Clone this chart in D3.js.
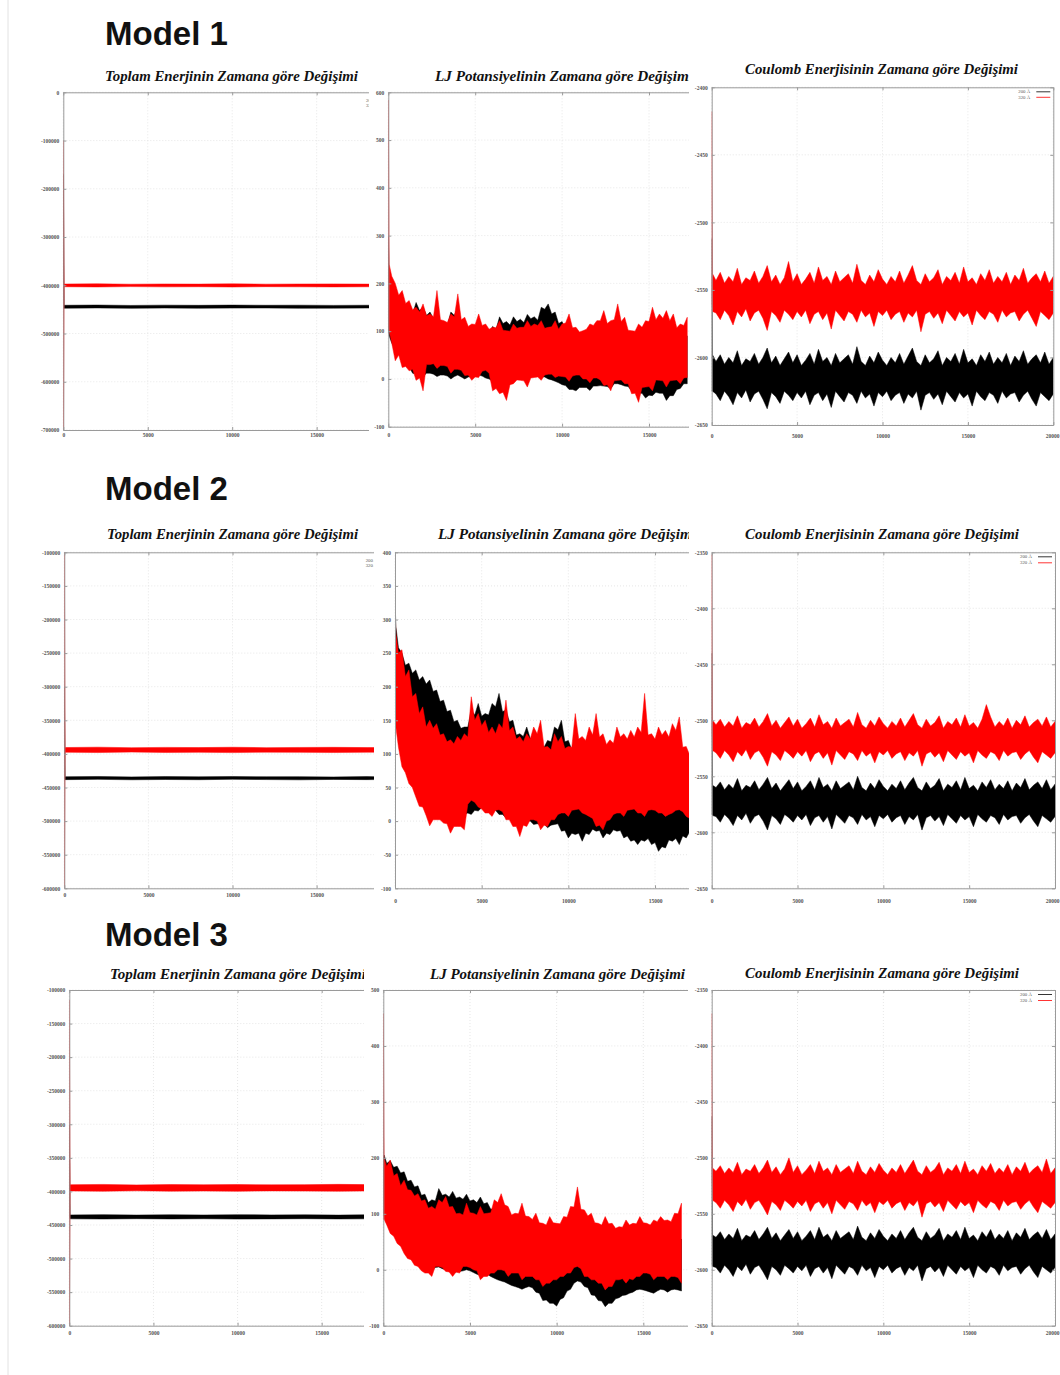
<!DOCTYPE html>
<html><head><meta charset="utf-8">
<script src="https://cdn.jsdelivr.net/npm/d3@7"></script>
<style>body{margin:0;background:#fff}svg{display:block}</style>
</head><body>
<svg id="fig" width="1060" height="1375"></svg>
<script>
// ---------------- DATA ----------------
const modelTitles = ["Model 1", "Model 2", "Model 3"];
const panelTitles = ["Toplam Enerjinin Zamana göre Değişimi", "LJ Potansiyelinin Zamana göre Değişimi", "Coulomb Enerjisinin Zamana göre Değişimi"];
const seriesNames = ["200 Å", "320 Å"];

const xTickValues = [0, 5000, 10000, 15000, 20000];
const totTicksM1 = [0, -100000, -200000, -300000, -400000, -500000, -600000, -700000];
const totTicksM23 = [-100000, -150000, -200000, -250000, -300000, -350000, -400000, -450000, -500000, -550000, -600000];
const ljTicksM1 = [600, 500, 400, 300, 200, 100, 0, -100];
const ljTicksM2 = [400, 350, 300, 250, 200, 150, 100, 50, 0, -50, -100];
const ljTicksM3 = [500, 400, 300, 200, 100, 0, -100];
const coulTicksM1 = [-2400, -2450, -2500, -2550, -2600, -2650];
const coulTicksM23 = [-2350, -2400, -2450, -2500, -2550, -2600, -2650];

// time steps at which envelopes (min / max of the noisy trace) were read
const totSteps = [0, 50, 2000, 4000, 6000, 8000, 10000, 12000, 14000, 16000, 18000, 20000];
const ljSteps = [0, 50, 400, 800, 1200, 1600, 2000, 2400, 2800, 3200, 3600, 4000, 4400, 4800, 5200, 5600, 6000, 6400, 6800, 7200, 7600, 8000, 8400, 8800, 9200, 9600, 10000, 10400, 10800, 11200, 11600, 12000, 12400, 12800, 13200, 13600, 14000, 14400, 14800, 15200, 15600, 16000, 16400, 16800, 17200];
const ljMidSteps = [200, 600, 1000, 1400, 1800, 2200, 2600, 3000, 3400, 3800, 4200, 4600, 5000, 5400, 5800, 6200, 6600, 7000, 7400, 7800, 8200, 8600, 9000, 9400, 9800, 10200, 10600, 11000, 11400, 11800, 12200, 12600, 13000, 13400, 13800, 14200, 14600, 15000, 15400, 15800, 16200, 16600, 17000];
const coulSteps = [0, 50, 250, 500, 750, 1000, 1250, 1500, 1750, 2000, 2250, 2500, 2750, 3000, 3250, 3500, 3750, 4000, 4250, 4500, 4750, 5000, 5250, 5500, 5750, 6000, 6250, 6500, 6750, 7000, 7250, 7500, 7750, 8000, 8250, 8500, 8750, 9000, 9250, 9500, 9750, 10000, 10250, 10500, 10750, 11000, 11250, 11500, 11750, 12000, 12250, 12500, 12750, 13000, 13250, 13500, 13750, 14000, 14250, 14500, 14750, 15000, 15250, 15500, 15750, 16000, 16250, 16500, 16750, 17000, 17250, 17500, 17750, 18000, 18250, 18500, 18750, 19000, 19250, 19500, 19750, 20000];

// Model 1 – total energy
const m1TotBlackHi = [-170000, -441500, -441000, -441800, -441200, -441600, -441100, -441500, -441300, -441700, -441400, -441500];
const m1TotBlackLo = [-447000, -447500, -447000, -447800, -447200, -447600, -447300, -447100, -447700, -447400, -447200, -447500];
const m1TotRedHi = [-100000, -397500, -397000, -397800, -397300, -397600, -397100, -397700, -397400, -397200, -397600, -397500];
const m1TotRedLo = [-760000, -403000, -403500, -402800, -403300, -403000, -403600, -402900, -403200, -403400, -403100, -403000];
// Model 2 – total energy
const m2TotBlackHi = [-300000, -434000, -433600, -434200, -433800, -434100, -433700, -434000, -433900, -434300, -433800, -434000];
const m2TotBlackLo = [-437000, -438300, -437900, -438500, -438100, -438400, -437800, -438200, -438600, -438000, -438300, -438100];
const m2TotRedHi = [-100000, -390500, -390000, -390800, -390300, -390600, -390100, -390700, -390400, -390200, -390600, -390500];
const m2TotRedLo = [-620000, -397500, -398000, -397300, -397800, -397600, -398100, -397400, -397700, -397900, -397500, -397600];
// Model 3 – total energy
const m3TotBlackHi = [-300000, -435000, -434600, -435200, -434800, -435100, -434700, -435000, -434900, -435300, -434800, -435000];
const m3TotBlackLo = [-438000, -440800, -441100, -440600, -441000, -440700, -441200, -440900, -440600, -441000, -440800, -440900];
const m3TotRedHi = [-115000, -390000, -389600, -390300, -389800, -390100, -389700, -390200, -389900, -389500, -390000, -389800];
const m3TotRedLo = [-620000, -399300, -399700, -399100, -399600, -399400, -399800, -399200, -399500, -399700, -399300, -399400];

// Model 1 – LJ potential (values at ljSteps, plus edge values at ljMidSteps)
const m1LjBlackHi = [300, 200, 170, 150, 140, 160, 150, 140, 130, 120, 140, 150, 120, 110, 120, 100, 110, 130, 120, 130, 125, 135, 130, 150, 157, 140, 120, 110, 100, 95, 100, 110, 100, 95, 105, 100, 90, 85, 95, 100, 110, 100, 95, 90, 90];
const m1LjBlackHiMid = [180, 140, 133, 136, 143, 133, 126, 116, 113, 133, 116, 106, 103, 98, 96, 104, 116, 113, 120, 118, 126, 123, 146, 136, 116, 103, 96, 90, 92, 96, 98, 90, 93, 96, 86, 80, 83, 90, 98, 96, 90, 86, 84];
const m1LjBlackLo = [100, 90, 60, 40, 25, 10, 5, 12, 5, 8, 0, 8, 0, 5, 8, 2, -5, 5, 0, 5, 10, 5, 15, 5, 0, -5, -12, -22, -25, -18, -24, -15, -15, -20, -10, -15, -25, -30, -40, -35, -30, -45, -35, -20, -10];
const m1LjBlackLoMid = [75, 55, 28, 12, 8, 12, 10, 8, 6, 5, 4, 4, 8, 6, 0, 2, 4, 2, 10, 8, 14, 12, 4, -2, -8, -14, -22, -18, -18, -15, -14, -16, -10, -12, -16, -24, -30, -34, -28, -30, -35, -22, -10];
const m1LjRedHi = [584, 240, 200, 185, 164, 150, 157, 136, 185, 122, 136, 178, 129, 115, 136, 115, 108, 122, 101, 115, 108, 122, 115, 122, 108, 122, 115, 136, 108, 101, 115, 122, 143, 122, 157, 129, 101, 115, 122, 150, 136, 143, 136, 115, 129];
const m1LjRedHiMid = [215, 175, 158, 145, 140, 132, 130, 124, 118, 130, 124, 110, 114, 112, 104, 107, 102, 100, 106, 108, 110, 112, 106, 109, 104, 117, 107, 98, 104, 112, 122, 116, 124, 120, 102, 100, 108, 120, 124, 127, 122, 107, 112];
const m1LjRedLo = [110, 100, 38, 24, 17, -3, -25, 30, 22, 28, 12, 20, 7, -3, 3, 18, -25, -31, -45, -10, -3, -17, 3, -3, 10, 3, 5, -5, 8, 0, -8, 2, -14, -25, -3, -10, -31, -49, -17, -25, -3, -17, -3, -10, 3];
const m1LjRedLoMid = [75, 50, 26, 20, 2, 30, 32, 28, 26, 20, 18, 8, 4, 16, 12, -20, -28, -12, -2, -4, 2, 4, 8, 10, 6, 4, 6, 8, 0, 2, -2, -12, -4, -2, -10, -30, -18, -16, -2, -4, -4, -2, 2];
// Model 2 – LJ potential
const m2LjBlackHi = [330, 290, 250, 235, 225, 215, 210, 195, 180, 165, 150, 140, 165, 175, 160, 175, 190, 165, 150, 130, 140, 125, 115, 120, 140, 150, 120, 110, 115, 105, 100, 110, 95, 100, 95, 105, 100, 95, 110, 100, 95, 100, 90, 95, 90];
const m2LjBlackHiMid = [258, 232, 220, 210, 204, 193, 178, 163, 148, 138, 140, 158, 156, 158, 170, 163, 148, 128, 126, 123, 112, 110, 118, 136, 118, 106, 104, 102, 96, 96, 93, 90, 92, 90, 96, 90, 93, 98, 92, 90, 88, 84, 86];
const m2LjBlackLo = [200, 160, 120, 100, 80, 60, 50, 40, 30, 20, 20, 10, 10, 15, 20, 15, 10, 5, 0, 5, 0, -5, -5, -10, -5, -15, -25, -20, -30, -20, -15, -25, -20, -15, -25, -30, -35, -30, -35, -45, -40, -30, -35, -25, -20];
const m2LjBlackLoMid = [140, 108, 86, 64, 54, 44, 34, 24, 22, 16, 12, 16, 20, 20, 16, 10, 4, 4, 4, 0, -4, -4, -6, -4, -14, -18, -18, -18, -12, -14, -18, -13, -14, -22, -28, -28, -26, -32, -38, -28, -26, -22, -16];
const m2LjRedHi = [320, 280, 255, 225, 190, 170, 150, 145, 130, 121, 126, 130, 185, 160, 150, 140, 145, 180, 140, 126, 130, 140, 150, 111, 130, 126, 111, 160, 126, 140, 160, 130, 121, 140, 130, 135, 140, 190, 130, 140, 135, 145, 155, 111, 100];
const m2LjRedHiMid = [250, 215, 185, 160, 140, 138, 128, 118, 115, 120, 125, 150, 142, 132, 130, 138, 135, 122, 118, 122, 130, 110, 106, 118, 108, 110, 122, 120, 128, 125, 114, 116, 125, 122, 125, 132, 128, 122, 128, 125, 135, 110, 98];
const m2LjRedLo = [160, 140, 81, 56, 36, 21, -7, 2, -3, -18, -8, -13, 31, 21, 12, 7, 17, 2, -8, -23, -8, 2, -13, -8, 2, 12, 7, 17, 12, 7, -8, -13, 2, 12, 7, 17, 12, 7, 17, 12, 7, 12, 17, 7, 2];
const m2LjRedLoMid = [110, 72, 50, 22, 8, 2, 2, -4, -8, -8, 25, 28, 18, 12, 16, 14, 2, -8, -6, 2, 0, -6, 2, 10, 12, 16, 18, 10, 4, -6, 0, 10, 12, 16, 18, 12, 16, 16, 12, 10, 16, 14, 4];
// Model 3 – LJ potential
const m3LjBlackHi = [200, 205, 195, 185, 175, 160, 150, 135, 125, 145, 135, 140, 130, 135, 125, 130, 120, 110, 100, 95, 90, 85, 80, 75, 70, 75, 65, 60, 70, 85, 70, 65, 60, 55, 50, 55, 50, 45, 55, 50, 55, 60, 55, 50, 55];
const m3LjBlackHiMid = [190, 183, 173, 158, 148, 133, 120, 123, 133, 130, 128, 126, 123, 120, 118, 108, 98, 93, 88, 84, 78, 74, 68, 68, 66, 58, 60, 70, 72, 64, 58, 54, 50, 48, 50, 44, 46, 50, 48, 54, 56, 50, 48];
const m3LjBlackLo = [100, 95, 75, 55, 40, 25, 15, 5, 0, 5, 0, -5, -3, 0, -5, -10, -8, -15, -20, -25, -30, -35, -30, -40, -55, -60, -65, -50, -35, -20, -30, -45, -55, -66, -60, -50, -45, -40, -35, -38, -42, -35, -40, -35, -38];
const m3LjBlackLoMid = [88, 64, 44, 27, 16, 6, 2, 4, 2, -2, -4, -2, -2, -8, -10, -12, -18, -22, -28, -32, -32, -32, -42, -54, -60, -53, -38, -24, -22, -32, -46, -56, -60, -52, -46, -42, -36, -36, -40, -38, -36, -36, -36];
const m3LjRedHi = [458, 199, 196, 172, 160, 142, 136, 125, 113, 125, 131, 113, 101, 119, 101, 113, 101, 125, 136, 113, 101, 119, 95, 101, 83, 95, 83, 95, 113, 148, 107, 101, 83, 95, 83, 77, 89, 83, 95, 83, 89, 95, 89, 101, 119];
const m3LjRedHiMid = [185, 168, 150, 143, 132, 123, 110, 108, 120, 112, 100, 98, 102, 98, 100, 102, 120, 116, 98, 100, 96, 90, 84, 80, 84, 82, 94, 112, 108, 96, 84, 80, 82, 74, 76, 80, 82, 84, 80, 86, 88, 86, 100];
const m3LjRedLo = [90, 90, 65, 47, 29, 18, 6, -6, -12, 6, -3, -12, -6, 6, 0, -18, -12, -6, 0, -12, -6, -18, -12, -18, -30, -24, -18, -12, -6, 6, -12, -18, -24, -36, -30, -18, -24, -18, -12, -6, -18, -12, -18, -12, -24];
const m3LjRedLoMid = [80, 60, 42, 20, 8, -2, -6, 6, 4, -4, -4, 6, 4, -2, -12, -6, 0, -2, -6, -6, -12, -12, -18, -24, -18, -12, -6, 4, 2, -12, -18, -24, -30, -18, -16, -16, -12, -6, -8, -12, -12, -12, -14];

// Model 1 – Coulomb energy
const m1CoulBlackHi = [-2512, -2598,
  -2603, -2598, -2605, -2600, -2604, -2595, -2606, -2601, -2603, -2597,
  -2605, -2600, -2593, -2604, -2599, -2606, -2601, -2596, -2604, -2598,
  -2606, -2602, -2597, -2605, -2594, -2603, -2600, -2606, -2597, -2604,
  -2601, -2598, -2605, -2592, -2603, -2606, -2599, -2604, -2596, -2602,
  -2606, -2600, -2604, -2597, -2605, -2599, -2593, -2603, -2606, -2598,
  -2604, -2601, -2595, -2606, -2600, -2603, -2597, -2605, -2594, -2604,
  -2601, -2606, -2598, -2603, -2596, -2605, -2600, -2604, -2597, -2606,
  -2599, -2603, -2595, -2605, -2601, -2598, -2604, -2596, -2605, -2600];
const m1CoulBlackLo = [-2625, -2625,
  -2627, -2632, -2625, -2629, -2635, -2626, -2630, -2624, -2633, -2627,
  -2625, -2631, -2638, -2626, -2629, -2634, -2625, -2628, -2632, -2626,
  -2630, -2625, -2635, -2628, -2626, -2632, -2627, -2637, -2625, -2629,
  -2633, -2626, -2628, -2634, -2625, -2630, -2627, -2636, -2626, -2629,
  -2625, -2632, -2628, -2626, -2634, -2627, -2630, -2625, -2639, -2628,
  -2626, -2631, -2627, -2635, -2625, -2629, -2633, -2626, -2630, -2627,
  -2636, -2625, -2629, -2632, -2626, -2628, -2634, -2625, -2630, -2627,
  -2626, -2633, -2628, -2625, -2631, -2636, -2626, -2629, -2632, -2627];
const m1CoulRedHi = [-2418, -2538,
  -2543, -2537, -2545, -2540, -2544, -2534, -2546, -2541, -2543, -2536,
  -2545, -2540, -2532, -2544, -2539, -2546, -2541, -2529, -2544, -2538,
  -2546, -2542, -2537, -2545, -2533, -2543, -2540, -2546, -2536, -2544,
  -2541, -2538, -2545, -2531, -2543, -2546, -2539, -2544, -2535, -2542,
  -2546, -2540, -2544, -2536, -2545, -2539, -2532, -2543, -2546, -2538,
  -2544, -2541, -2535, -2546, -2540, -2543, -2537, -2545, -2533, -2544,
  -2541, -2546, -2538, -2543, -2535, -2545, -2540, -2544, -2537, -2546,
  -2539, -2543, -2534, -2545, -2541, -2538, -2544, -2536, -2545, -2540];
const m1CoulRedLo = [-2560, -2566,
  -2567, -2572, -2565, -2569, -2576, -2566, -2570, -2564, -2573, -2567,
  -2565, -2571, -2580, -2566, -2569, -2574, -2565, -2568, -2572, -2566,
  -2570, -2565, -2575, -2568, -2566, -2572, -2567, -2579, -2565, -2569,
  -2573, -2566, -2568, -2574, -2565, -2570, -2567, -2577, -2566, -2569,
  -2565, -2572, -2568, -2566, -2574, -2567, -2570, -2565, -2581, -2568,
  -2566, -2571, -2567, -2575, -2565, -2569, -2573, -2566, -2570, -2567,
  -2576, -2565, -2569, -2572, -2566, -2568, -2574, -2565, -2570, -2567,
  -2566, -2573, -2568, -2565, -2571, -2577, -2566, -2569, -2572, -2567];
// Model 2 – Coulomb energy
const m2CoulBlackHi = [-2440, -2558,
  -2560, -2555, -2562, -2557, -2561, -2552, -2563, -2558, -2560, -2554,
  -2562, -2557, -2551, -2561, -2556, -2563, -2558, -2553, -2561, -2555,
  -2563, -2559, -2554, -2562, -2551, -2560, -2557, -2563, -2554, -2561,
  -2558, -2555, -2562, -2550, -2560, -2563, -2556, -2561, -2553, -2559,
  -2563, -2557, -2561, -2554, -2562, -2556, -2551, -2560, -2563, -2555,
  -2561, -2558, -2552, -2563, -2557, -2560, -2554, -2562, -2551, -2561,
  -2558, -2563, -2555, -2560, -2553, -2562, -2557, -2561, -2554, -2563,
  -2556, -2560, -2552, -2562, -2558, -2555, -2561, -2553, -2562, -2557];
const m2CoulBlackLo = [-2584, -2585,
  -2586, -2591, -2584, -2588, -2594, -2585, -2589, -2583, -2592, -2586,
  -2584, -2590, -2598, -2585, -2588, -2593, -2584, -2587, -2591, -2585,
  -2589, -2584, -2594, -2587, -2585, -2591, -2586, -2597, -2584, -2588,
  -2592, -2585, -2587, -2593, -2584, -2589, -2586, -2595, -2585, -2588,
  -2584, -2591, -2587, -2585, -2593, -2586, -2589, -2584, -2598, -2587,
  -2585, -2590, -2586, -2594, -2584, -2588, -2592, -2585, -2589, -2586,
  -2595, -2584, -2588, -2591, -2585, -2587, -2593, -2584, -2589, -2586,
  -2585, -2592, -2587, -2584, -2590, -2595, -2585, -2588, -2591, -2586];
const m2CoulRedHi = [-2352, -2500,
  -2504, -2499, -2506, -2501, -2505, -2496, -2507, -2502, -2504, -2498,
  -2506, -2501, -2494, -2505, -2500, -2507, -2502, -2497, -2505, -2499,
  -2507, -2503, -2498, -2506, -2495, -2504, -2501, -2507, -2498, -2505,
  -2502, -2499, -2506, -2493, -2504, -2507, -2500, -2505, -2497, -2503,
  -2507, -2501, -2505, -2498, -2506, -2500, -2494, -2504, -2507, -2499,
  -2505, -2502, -2496, -2507, -2501, -2504, -2498, -2506, -2495, -2505,
  -2502, -2507, -2499, -2486, -2497, -2506, -2501, -2505, -2498, -2507,
  -2500, -2504, -2496, -2506, -2502, -2499, -2505, -2497, -2506, -2501];
const m2CoulRedLo = [-2510, -2527,
  -2529, -2534, -2527, -2531, -2537, -2528, -2532, -2526, -2535, -2529,
  -2527, -2533, -2541, -2528, -2531, -2536, -2527, -2530, -2534, -2528,
  -2532, -2527, -2537, -2530, -2528, -2534, -2529, -2540, -2527, -2531,
  -2535, -2528, -2530, -2536, -2527, -2532, -2529, -2538, -2528, -2531,
  -2527, -2534, -2530, -2528, -2536, -2529, -2532, -2527, -2541, -2530,
  -2528, -2533, -2529, -2537, -2527, -2531, -2535, -2528, -2532, -2529,
  -2538, -2527, -2531, -2534, -2528, -2530, -2536, -2527, -2532, -2529,
  -2528, -2535, -2530, -2527, -2533, -2538, -2528, -2531, -2534, -2529];
// Model 3 – Coulomb energy
const m3CoulBlackHi = [-2463, -2569,
  -2571, -2566, -2573, -2568, -2572, -2563, -2574, -2569, -2571, -2565,
  -2573, -2568, -2562, -2572, -2567, -2574, -2569, -2564, -2572, -2566,
  -2574, -2570, -2565, -2573, -2562, -2571, -2568, -2574, -2565, -2572,
  -2569, -2566, -2573, -2561, -2571, -2574, -2567, -2572, -2564, -2570,
  -2574, -2568, -2572, -2565, -2573, -2567, -2562, -2571, -2574, -2566,
  -2572, -2569, -2563, -2574, -2568, -2571, -2565, -2573, -2562, -2572,
  -2569, -2574, -2566, -2571, -2564, -2573, -2568, -2572, -2565, -2574,
  -2567, -2571, -2563, -2573, -2569, -2566, -2572, -2564, -2573, -2568];
const m3CoulBlackLo = [-2596, -2597,
  -2598, -2603, -2596, -2600, -2606, -2597, -2601, -2595, -2604, -2598,
  -2596, -2602, -2609, -2597, -2600, -2605, -2596, -2599, -2603, -2597,
  -2601, -2596, -2606, -2599, -2597, -2603, -2598, -2608, -2596, -2600,
  -2604, -2597, -2599, -2605, -2596, -2601, -2598, -2607, -2597, -2600,
  -2596, -2603, -2599, -2597, -2605, -2598, -2601, -2596, -2610, -2599,
  -2597, -2602, -2598, -2606, -2596, -2600, -2604, -2597, -2601, -2598,
  -2607, -2596, -2600, -2603, -2597, -2599, -2605, -2596, -2601, -2598,
  -2597, -2604, -2599, -2596, -2602, -2607, -2597, -2600, -2603, -2598];
const m3CoulRedHi = [-2371, -2509,
  -2512, -2507, -2514, -2509, -2513, -2504, -2515, -2510, -2512, -2506,
  -2514, -2509, -2502, -2513, -2508, -2515, -2510, -2500, -2513, -2507,
  -2515, -2511, -2506, -2514, -2503, -2512, -2509, -2515, -2506, -2513,
  -2510, -2507, -2514, -2503, -2512, -2515, -2508, -2513, -2505, -2511,
  -2515, -2509, -2513, -2506, -2514, -2508, -2502, -2512, -2515, -2507,
  -2513, -2510, -2504, -2515, -2509, -2512, -2506, -2514, -2503, -2513,
  -2510, -2515, -2507, -2512, -2505, -2514, -2509, -2513, -2506, -2515,
  -2508, -2512, -2504, -2514, -2510, -2507, -2513, -2501, -2514, -2509];
const m3CoulRedLo = [-2520, -2538,
  -2540, -2545, -2538, -2542, -2548, -2539, -2543, -2537, -2546, -2540,
  -2538, -2544, -2551, -2539, -2542, -2547, -2538, -2541, -2545, -2539,
  -2543, -2538, -2548, -2541, -2539, -2545, -2540, -2550, -2538, -2542,
  -2546, -2539, -2541, -2547, -2538, -2543, -2540, -2549, -2539, -2542,
  -2538, -2545, -2541, -2539, -2547, -2540, -2543, -2538, -2553, -2541,
  -2539, -2544, -2540, -2548, -2538, -2542, -2546, -2539, -2543, -2540,
  -2549, -2538, -2542, -2545, -2539, -2541, -2547, -2538, -2543, -2540,
  -2539, -2546, -2541, -2538, -2544, -2549, -2539, -2542, -2545, -2540];

// ---------------- PANEL DEFINITIONS ----------------
// each series: {steps, lo, hi} (+ optional extra edge samples midSteps / loMid / hiMid)
const panels = [
  {kind: 0, yDomain: [-700000, 0], yTicks: totTicksM1, series: [
    {steps: totSteps, lo: m1TotBlackLo, hi: m1TotBlackHi}, {steps: totSteps, lo: m1TotRedLo, hi: m1TotRedHi}]},
  {kind: 1, yDomain: [-100, 600], yTicks: ljTicksM1, series: [
    {steps: ljSteps, lo: m1LjBlackLo, hi: m1LjBlackHi, midSteps: ljMidSteps, loMid: m1LjBlackLoMid, hiMid: m1LjBlackHiMid},
    {steps: ljSteps, lo: m1LjRedLo, hi: m1LjRedHi, midSteps: ljMidSteps, loMid: m1LjRedLoMid, hiMid: m1LjRedHiMid}]},
  {kind: 2, yDomain: [-2650, -2400], yTicks: coulTicksM1, series: [
    {steps: coulSteps, lo: m1CoulBlackLo, hi: m1CoulBlackHi}, {steps: coulSteps, lo: m1CoulRedLo, hi: m1CoulRedHi}]},
  {kind: 0, yDomain: [-600000, -100000], yTicks: totTicksM23, series: [
    {steps: totSteps, lo: m2TotBlackLo, hi: m2TotBlackHi}, {steps: totSteps, lo: m2TotRedLo, hi: m2TotRedHi}]},
  {kind: 1, yDomain: [-100, 400], yTicks: ljTicksM2, series: [
    {steps: ljSteps, lo: m2LjBlackLo, hi: m2LjBlackHi, midSteps: ljMidSteps, loMid: m2LjBlackLoMid, hiMid: m2LjBlackHiMid},
    {steps: ljSteps, lo: m2LjRedLo, hi: m2LjRedHi, midSteps: ljMidSteps, loMid: m2LjRedLoMid, hiMid: m2LjRedHiMid}]},
  {kind: 2, yDomain: [-2650, -2350], yTicks: coulTicksM23, series: [
    {steps: coulSteps, lo: m2CoulBlackLo, hi: m2CoulBlackHi}, {steps: coulSteps, lo: m2CoulRedLo, hi: m2CoulRedHi}]},
  {kind: 0, yDomain: [-600000, -100000], yTicks: totTicksM23, series: [
    {steps: totSteps, lo: m3TotBlackLo, hi: m3TotBlackHi}, {steps: totSteps, lo: m3TotRedLo, hi: m3TotRedHi}]},
  {kind: 1, yDomain: [-100, 500], yTicks: ljTicksM3, series: [
    {steps: ljSteps, lo: m3LjBlackLo, hi: m3LjBlackHi, midSteps: ljMidSteps, loMid: m3LjBlackLoMid, hiMid: m3LjBlackHiMid},
    {steps: ljSteps, lo: m3LjRedLo, hi: m3LjRedHi, midSteps: ljMidSteps, loMid: m3LjRedLoMid, hiMid: m3LjRedHiMid}]},
  {kind: 2, yDomain: [-2650, -2350], yTicks: coulTicksM23, series: [
    {steps: coulSteps, lo: m3CoulBlackLo, hi: m3CoulBlackHi}, {steps: coulSteps, lo: m3CoulRedLo, hi: m3CoulRedHi}]}
];

// ---------------- LAYOUT (pixels) ----------------
const seriesColors = ["#000000", "#ff0000"];
const modelTitlePos = [{x: 105, y: 45}, {x: 105, y: 500}, {x: 105, y: 946}];
const layout = [
  {x0: 63.3, x1: 401.1, y0: 92.3, y1: 430, clip: [28, 55, 369, 452], tx: 105, ty: 81, tw: 253, xlab: 3, leg: [8, 13.5]},
  {x0: 388.3, x1: 735.9, y0: 92.3, y1: 426.7, clip: [371, 55, 689, 452], tx: 435, ty: 80.5, tw: 258, xlab: 6, leg: [8, 13.5]},
  {x0: 711.7, x1: 1053.3, y0: 87.3, y1: 425, clip: [689, 50, 1060, 452], tx: 745, ty: 73.5, tw: 273, xlab: 9, leg: [4.5, 10]},
  {x0: 64.3, x1: 400.7, y0: 552.3, y1: 888.3, clip: [28, 515, 374, 912], tx: 107, ty: 539, tw: 251, xlab: 5, leg: [8, 13.5]},
  {x0: 395, x1: 741.7, y0: 552.3, y1: 888.3, clip: [376, 515, 689, 912], tx: 438, ty: 539, tw: 258, xlab: 11, leg: [8, 13.5]},
  {x0: 711.7, x1: 1055, y0: 552.3, y1: 888.3, clip: [689, 515, 1060, 912], tx: 745, ty: 539, tw: 274, xlab: 11, leg: [4.5, 10.5]},
  {x0: 69.3, x1: 405.8, y0: 990, y1: 1325.7, clip: [28, 955, 364, 1350], tx: 110, ty: 978.5, tw: 256, xlab: 5, leg: [8, 13.5]},
  {x0: 383.3, x1: 730, y0: 990, y1: 1325.7, clip: [366, 955, 688, 1350], tx: 430, ty: 978.5, tw: 255, xlab: 5, leg: [8, 13.5]},
  {x0: 711.7, x1: 1055, y0: 990, y1: 1325.7, clip: [689, 955, 1060, 1350], tx: 745, ty: 978, tw: 274, xlab: 5, leg: [4.5, 10.5]}
];

// ---------------- DRAW ----------------
const svg = d3.select("#fig");
svg.append("rect").attr("width", 1060).attr("height", 1375).attr("fill", "#fff");
svg.append("line").attr("x1", 8).attr("x2", 8).attr("y1", 0).attr("y2", 1375).attr("stroke", "#e2e2e2").attr("stroke-width", 1);
const defs = svg.append("defs");

modelTitles.forEach((t, i) => {
  svg.append("text").attr("x", modelTitlePos[i].x).attr("y", modelTitlePos[i].y)
    .attr("font-family", "Liberation Sans, Arial, sans-serif").attr("font-weight", "bold")
    .attr("font-size", 33).attr("fill", "#111").text(t);
});

const serif = "Liberation Serif, Times New Roman, serif";

// gather the read samples of one series into step-ordered points
function seriesPoints(s) {
  const pts = s.steps.map((st, j) => ({s: st, lo: s.lo[j], hi: s.hi[j]}));
  if (s.midSteps) s.midSteps.forEach((st, j) => pts.push({s: st, lo: s.loMid[j], hi: s.hiMid[j]}));
  return pts.sort((a, b) => a.s - b.s);
}

panels.forEach((p, i) => {
  const L = layout[i];
  defs.append("clipPath").attr("id", "clip" + i).append("rect")
    .attr("x", L.clip[0]).attr("y", L.clip[1])
    .attr("width", L.clip[2] - L.clip[0]).attr("height", L.clip[3] - L.clip[1]);
  const dx0 = Math.max(L.x0, L.clip[0]), dx1 = Math.min(L.x1, L.clip[2]);
  defs.append("clipPath").attr("id", "dclip" + i).append("rect")
    .attr("x", dx0).attr("y", L.y0).attr("width", dx1 - dx0).attr("height", L.y1 - L.y0);

  const g = svg.append("g").attr("clip-path", `url(#clip${i})`);

  const x = d3.scaleLinear().domain([0, 20000]).range([L.x0, L.x1]);
  const y = d3.scaleLinear().domain(p.yDomain).range([L.y1, L.y0]);

  // title
  g.append("text").attr("x", L.tx).attr("y", L.ty)
    .attr("font-family", serif)
    .attr("font-style", "italic").attr("font-weight", "bold").attr("font-size", 15)
    .attr("fill", "#111").attr("textLength", L.tw).attr("lengthAdjust", "spacingAndGlyphs")
    .text(panelTitles[p.kind]);

  // grid
  const grid = g.append("g").attr("stroke", "#dcdcdc").attr("stroke-width", 0.7).attr("stroke-dasharray", "1,2");
  grid.selectAll(".gy").data(p.yTicks).join("line")
    .attr("x1", L.x0).attr("x2", L.x1).attr("y1", d => y(d)).attr("y2", d => y(d));
  grid.selectAll(".gx").data(xTickValues).join("line")
    .attr("x1", d => x(d)).attr("x2", d => x(d)).attr("y1", L.y0).attr("y2", L.y1);

  // data (black first, red on top), clipped to the plot frame
  const dg = g.append("g").attr("clip-path", `url(#dclip${i})`);
  const area = d3.area().x(d => x(d.s)).y0(d => y(d.lo)).y1(d => y(d.hi)).curve(d3.curveLinear);
  p.series.forEach((s, k) => {
    dg.append("path").datum(seriesPoints(s)).attr("d", area)
      .attr("fill", seriesColors[k]).attr("stroke", seriesColors[k]).attr("stroke-width", 0.5)
      .attr("stroke-linejoin", "miter");
  });

  // axes
  const axisStyle = sel => {
    sel.selectAll("path.domain").attr("stroke", "#9a9a9a").attr("stroke-width", 1);
    sel.selectAll(".tick line").attr("stroke", "#9a9a9a");
    sel.selectAll("text").attr("font-family", serif)
      .attr("font-size", 5.5).attr("font-weight", "bold").attr("fill", "#555");
  };
  g.append("g").attr("transform", `translate(${L.x0},0)`)
    .call(d3.axisLeft(y).tickValues(p.yTicks).tickSizeInner(-3).tickSizeOuter(0).tickPadding(4).tickFormat(d => String(d)))
    .call(axisStyle);
  g.append("g").attr("transform", `translate(${L.x1},0)`)
    .call(d3.axisRight(y).tickValues(p.yTicks).tickSizeInner(-3).tickSizeOuter(0).tickFormat(""))
    .call(axisStyle);
  const xb = g.append("g").attr("transform", `translate(0,${L.y1})`)
    .call(d3.axisBottom(x).tickValues(xTickValues).tickSizeInner(-3).tickSizeOuter(0).tickPadding(L.xlab).tickFormat(d => String(d)))
    .call(axisStyle);
  // keep the last label inside the page
  xb.selectAll(".tick").filter(d => x(d) + 8 > 1060).select("text")
    .attr("text-anchor", "end").attr("x", d => 1059 - x(d));
  g.append("g").attr("transform", `translate(0,${L.y0})`)
    .call(d3.axisTop(x).tickValues(xTickValues).tickSizeInner(-3).tickSizeOuter(0).tickFormat(""))
    .call(axisStyle);

  // legend (top-right, inside frame)
  seriesNames.forEach((name, k) => {
    const ly = L.y0 + L.leg[k];
    g.append("text").attr("x", L.x1 - 35).attr("y", ly + 1.6)
      .attr("font-family", serif).attr("font-size", 4.8)
      .attr("fill", "#555").text(name);
    g.append("line").attr("x1", L.x1 - 17).attr("x2", L.x1 - 3).attr("y1", ly).attr("y2", ly)
      .attr("stroke", seriesColors[k]).attr("stroke-width", 0.8);
  });
});
</script>
</body></html>
